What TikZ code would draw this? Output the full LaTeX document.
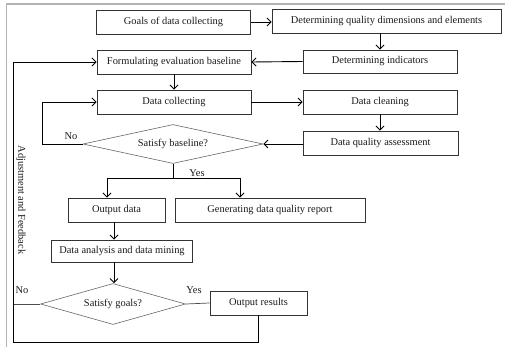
\documentclass[tikz,border=0pt]{standalone}
\usepackage{fontspec}
\setmainfont{Liberation Serif}
\usetikzlibrary{arrows.meta,shapes.geometric,calc}
\begin{document}
\begin{tikzpicture}[x=1pt,y=-1pt,
  font=\fontsize{10.4}{12}\selectfont,
  box/.style={draw=black!80,line width=0.8pt,rectangle,inner sep=0pt,text=black!90},
  dia/.style={draw=black!60,line width=0.6pt,diamond,aspect=4.6,inner sep=0pt,text=black!90},
  conn/.style={line width=0.9pt,black},
  arr/.style={conn,-{Straight Barb[length=4pt,width=8pt]}},
  lbl/.style={inner sep=0pt,text=black!90}]
\useasboundingbox (0,0) rectangle (505,347);
\draw[black!30,line width=1.4pt] (505,4) -- (6.5,4) -- (6.5,347);
% nodes
\node[box,minimum width=154pt,minimum height=24pt] (goals) at (173.5,22) {Goals of data collecting};
\node[box,minimum width=229pt,minimum height=24pt] (dqd) at (386.5,21) {Determining quality dimensions and elements};
\node[box,minimum width=154pt,minimum height=23pt] (ind) at (380,61.5) {Determining indicators};
\node[box,minimum width=154pt,minimum height=24pt] (form) at (174,62) {Formulating evaluation baseline};
\node[box,minimum width=154pt,minimum height=24pt] (dc) at (174,102) {Data collecting};
\node[box,minimum width=154pt,minimum height=24pt] (clean) at (380,102) {Data cleaning};
\node[box,minimum width=155pt,minimum height=24pt] (dqa) at (380.5,143) {Data quality assessment};
\node[dia,minimum width=180pt,minimum height=39pt] (sb) at (173,144) {Satisfy baseline?};
\node[box,minimum width=97pt,minimum height=24pt] (od) at (116.5,210) {Output data};
\node[box,minimum width=190pt,minimum height=24pt] (gen) at (270,210) {Generating data quality report};
\node[box,minimum width=141pt,minimum height=22pt] (da) at (122,251) {Data analysis and data mining};
\node[dia,minimum width=145pt,minimum height=41pt] (sg) at (113,304) {Satisfy goals?};
\node[box,minimum width=97pt,minimum height=24pt] (out) at (258.5,303) {Output results};
\node[lbl,rotate=-90] (adj) at (21,200) {Adjustment and Feedback};
% coordinates
\coordinate (nb) at (42,144);
\coordinate (ys) at (173,178);
\coordinate (yl) at (107,178);
\coordinate (yr) at (240,178);
\coordinate (lx) at (114,0);
\coordinate (fbl) at (13,342);
\coordinate (fbr) at (258,342);
\coordinate (fbt) at (13,62);
\coordinate (gno) at (13,304);
% connectors
\draw[arr] (goals.east |- 0,22) -- (dqd.west |- 0,22);
\draw[arr] (ind.north |- dqd.south) -- (ind.north);
\draw[arr] (ind.west) -- (form.east);
\draw[arr] (form.south) -- (dc.north);
\draw[arr] (dc.east) -- (clean.west);
\draw[arr] (clean.south) -- (clean.south |- dqa.north);
\draw[arr] (dqa.west |- sb.east) -- (sb.east);
\draw[arr] (sb.west) -- (nb) |- (dc.west);
\node[lbl,anchor=south] (no1) at (71,140) {No};
\draw[conn] (sb.south) -- (ys);
\draw[conn] (yl) -- (yr);
\draw[arr] (yl) -- (yl |- od.north);
\draw[arr] (yr) -- (yr |- gen.north);
\node[lbl,anchor=south] (yes1) at (197,177) {Yes};
\draw[arr] (lx |- od.south) -- (lx |- da.north);
\draw[arr] (lx |- da.south) -- (lx |- sg.north);
\draw[conn,black!70,line width=0.7pt] (sg.east) -- (out.west);
\node[lbl,anchor=south] (yes2) at (194,294) {Yes};
\draw[conn,black!70,line width=0.7pt] (sg.west) -- (gno);
\node[lbl,anchor=south] (no2) at (22,294) {No};
\draw[arr] (fbr |- out.south) -- (fbr) -- (fbl) -- (fbt) -- (form.west);
\end{tikzpicture}
\end{document}
